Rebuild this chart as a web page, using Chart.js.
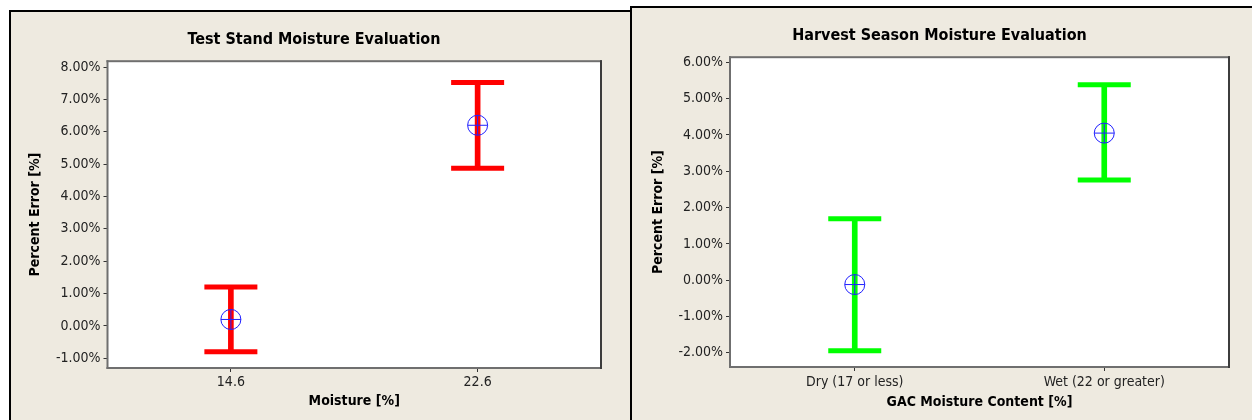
<!DOCTYPE html>
<html>
<head>
<meta charset="utf-8">
<script src="https://cdn.jsdelivr.net/npm/chart.js@4.4.1/dist/chart.umd.min.js"></script>
<style>
  html, body { margin: 0; padding: 0; background: #ffffff; }
  body { width: 1252px; height: 420px; position: relative; overflow: hidden; }
  .panel { position: absolute; background: #eeeae0; border-left: 2px solid #000; border-top: 2px solid #000; }
  #leftPanel { left: 9px; top: 10px; width: 619px; height: 420px; }
  #rightPanel { left: 630px; top: 6px; width: 622px; height: 420px; }
  .panel canvas { position: absolute; left: 0; top: 0; }
</style>
</head>
<body>
<div class="panel" id="leftPanel"><canvas id="testChart" width="619" height="408"></canvas></div>
<div class="panel" id="rightPanel"><canvas id="harvestChart" width="620" height="412"></canvas></div>
<script>
// Test stand data (percent error)
const testCategories = ['14.6', '22.6'];
const testMean = [0.2, 6.2];
const testLower = [-0.8, 4.87];
const testUpper = [1.2, 7.52];
const testTicks = [-1, 0, 1, 2, 3, 4, 5, 6, 7, 8];

// Harvest season data (percent error)
const harvestCategories = ['Dry (17 or less)', 'Wet (22 or greater)'];
const harvestMean = [-0.12, 4.05];
const harvestLower = [-1.94, 2.76];
const harvestUpper = [1.69, 5.38];
const harvestTicks = [-2, -1, 0, 1, 2, 3, 4, 5, 6];

const FONT = "'DejaVu Sans Condensed', Tahoma, 'DejaVu Sans', sans-serif";

// white plot background + gray frame around it
const framePlugin = {
    id: 'frame',
    beforeDraw(chart) {
        const a = chart.chartArea;
        chart.ctx.save();
        chart.ctx.fillStyle = '#ffffff';
        chart.ctx.fillRect(a.left, a.top, a.right - a.left, a.bottom - a.top);
        chart.ctx.restore();
    },
    afterDraw(chart) {
        const a = chart.chartArea;
        const ctx = chart.ctx;
        ctx.save();
        ctx.fillStyle = '#6f6f6f';
        ctx.fillRect(a.left - 1, a.top - 1, a.right - a.left + 2, 2);
        ctx.fillRect(a.left - 1, a.bottom - 1, a.right - a.left + 2, 2);
        ctx.fillRect(a.left - 1, a.top - 1, 2, a.bottom - a.top + 2);
        ctx.fillStyle = '#3c3c3c';
        ctx.fillRect(a.right - 1, a.top - 1, 2, a.bottom - a.top + 2);
        ctx.restore();
    }
};

const makeChart = (id, o) => {
    const ctx = document.getElementById(id).getContext('2d');
    return new Chart(ctx, {
        type: 'bar',
        data: {
            labels: o.labels,
            datasets: [
                {
                    type: 'line', label: 'cross', data: o.mean, showLine: false,
                    pointStyle: 'cross', pointRadius: 10, pointBorderWidth: 1,
                    pointBorderColor: '#2020ff', order: 0
                },
                {
                    type: 'line', label: 'mean', data: o.mean, showLine: false,
                    pointStyle: 'circle', pointRadius: 10, pointBorderWidth: 1,
                    pointBorderColor: '#2020ff', pointBackgroundColor: 'rgba(0,0,0,0)', order: 1
                },
                {
                    type: 'line', label: 'upper', data: o.upper, showLine: false,
                    pointStyle: 'line', pointRadius: 26.5, pointBorderWidth: 5,
                    pointBorderColor: o.color, order: 2
                },
                {
                    type: 'line', label: 'lower', data: o.lower, showLine: false,
                    pointStyle: 'line', pointRadius: 26.5, pointBorderWidth: 5,
                    pointBorderColor: o.color, order: 3
                },
                {
                    type: 'bar', label: 'range',
                    data: o.lower.map((v, i) => [v, o.upper[i]]),
                    backgroundColor: o.color, barThickness: 5, order: 4
                }
            ]
        },
        options: {
            responsive: false,
            animation: false,
            events: [],
            layout: { padding: o.padding, autoPadding: false },
            plugins: {
                legend: { display: false },
                tooltip: { enabled: false },
                title: {
                    display: true, text: o.title, color: '#000',
                    font: { family: FONT, size: 16, weight: 'bold' },
                    padding: { top: 18, bottom: o.titleGap }
                }
            },
            scales: {
                x: {
                    offset: true,
                    grid: { display: true, drawOnChartArea: false, offset: false, tickLength: 4, color: '#333' },
                    border: { display: false },
                    ticks: { color: '#222', padding: o.xTickPad, font: { family: FONT, size: 14 } },
                    title: {
                        display: true, text: o.xTitle, color: '#000', padding: 0,
                        font: { family: FONT, size: 14, weight: 'bold' }
                    },
                    afterFit: (s) => { s.height = o.xHeight; s.paddingLeft = 0; s.paddingRight = 0; }
                },
                y: {
                    min: o.yMin, max: o.yMax,
                    afterBuildTicks: (s) => { s.ticks = o.yTicks.map(v => ({ value: v })); },
                    grid: { display: true, drawOnChartArea: false, tickLength: 4, color: '#333' },
                    border: { display: false },
                    ticks: {
                        color: '#222', padding: 3,
                        font: { family: FONT, size: 14 },
                        callback: (v) => Number(v).toFixed(2) + '%'
                    },
                    title: {
                        display: true, text: 'Percent Error [%]', color: '#000', padding: 0,
                        font: { family: FONT, size: 14, weight: 'bold' }
                    },
                    afterFit: (s) => { s.width = o.yWidth; }
                }
            }
        },
        plugins: [framePlugin]
    });
};

makeChart('testChart', {
    labels: testCategories, mean: testMean, lower: testLower, upper: testUpper,
    color: '#ff0000', title: 'Test Stand Moisture Evaluation', xTitle: 'Moisture [%]',
    yMin: -1.3, yMax: 8.18, yTicks: testTicks,
    padding: { left: 16, right: 29, top: 0, bottom: 10 },
    titleGap: 12, yWidth: 80.5, xHeight: 42, xTickPad: 2
});

makeChart('harvestChart', {
    labels: harvestCategories, mean: harvestMean, lower: harvestLower, upper: harvestUpper,
    color: '#00ff00', title: 'Harvest Season Moisture Evaluation', xTitle: 'GAC Moisture Content [%]',
    yMin: -2.39, yMax: 6.14, yTicks: harvestTicks,
    padding: { left: 18, right: 23, top: 0, bottom: 9 },
    titleGap: 12, yWidth: 80, xHeight: 44, xTickPad: 3
});
</script>
</body>
</html>
